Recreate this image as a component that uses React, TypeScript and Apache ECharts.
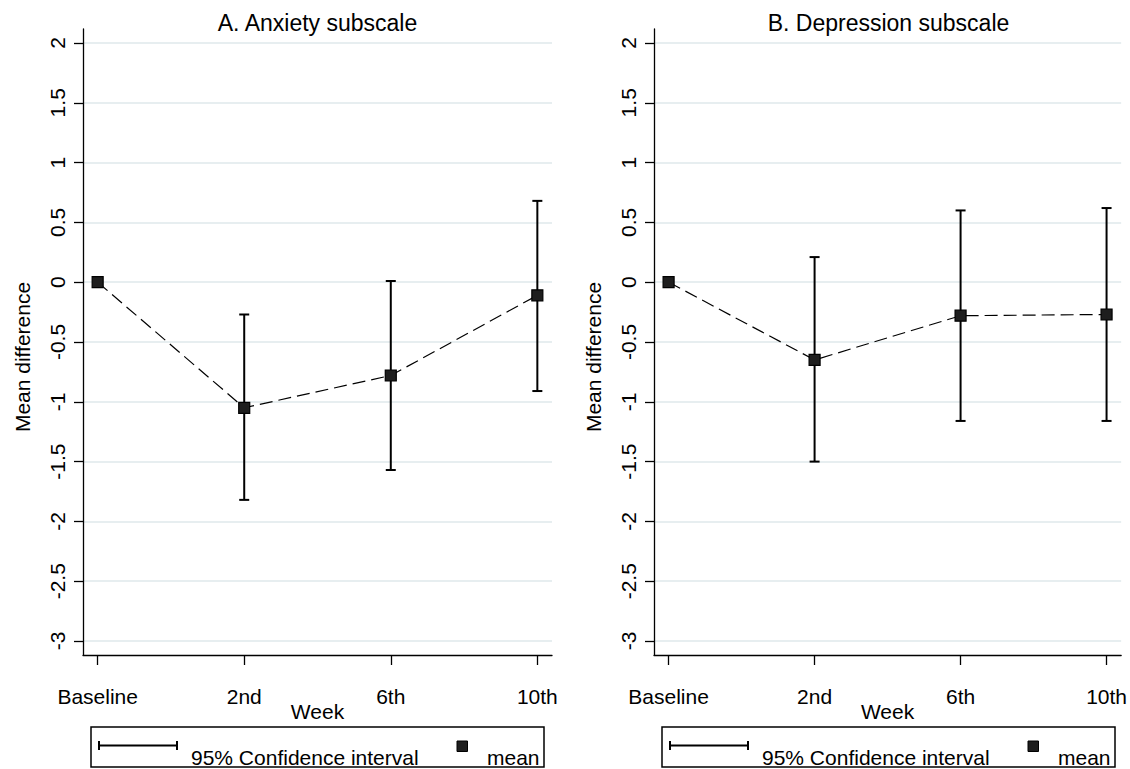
import React, { useEffect, useRef } from "react";
import * as echarts from "echarts";

const weeks = ["Baseline", "2nd", "6th", "10th"];
const yTicks = [-3, -2.5, -2, -1.5, -1, -0.5, 0, 0.5, 1, 1.5, 2];
const panelTitles = ["A. Anxiety subscale", "B. Depression subscale"];

const anxietyMean = [0, -1.05, -0.78, -0.11];
const anxietyLow = [null, -1.82, -1.57, -0.91];
const anxietyHigh = [null, -0.27, 0.01, 0.68];

const depressionMean = [0, -0.65, -0.28, -0.27];
const depressionLow = [null, -1.5, -1.16, -1.16];
const depressionHigh = [null, 0.21, 0.6, 0.62];

const FONT = "'Liberation Sans', Arial, Helvetica, sans-serif";

export default function App() {
  const ref = useRef<HTMLDivElement>(null);

  useEffect(() => {
    if (!ref.current) return;
    const chart = echarts.init(ref.current, null, { renderer: "svg" });

    const panels = [
      { mean: anxietyMean, low: anxietyLow, high: anxietyHigh },
      { mean: depressionMean, low: depressionLow, high: depressionHigh },
    ];
    const gridLefts = [83, 654];
    const gridWidth = 469;
    const gridTop = 29;
    const gridHeight = 626;

    const grids = gridLefts.map((l) => ({
      left: l,
      top: gridTop,
      width: gridWidth,
      height: gridHeight,
      containLabel: false,
    }));

    const xAxes = gridLefts.map((_, i) => ({
      type: "value",
      gridIndex: i,
      min: -0.1,
      max: 3.1,
      axisLine: { show: true, onZero: false, lineStyle: { color: "#000", width: 1.3 } },
      axisTick: { show: true, length: 10, customValues: [0, 1, 2, 3], lineStyle: { color: "#000", width: 1.3 } },
      axisLabel: {
        customValues: [0, 1, 2, 3],
        formatter: (v: number) => weeks[Math.round(v)] ?? "",
        color: "#000",
        fontSize: 21,
        fontFamily: FONT,
        margin: 31,
      },
      splitLine: { show: false },
      name: "Week",
      nameLocation: "middle",
      nameGap: 46,
      nameMoveOverlap: false,
      nameTextStyle: { color: "#000", fontSize: 21, fontFamily: FONT },
    }));

    const yAxes = gridLefts.map((_, i) => ({
      type: "value",
      gridIndex: i,
      min: -3.117,
      max: 2.117,
      axisLine: { show: true, onZero: false, lineStyle: { color: "#000", width: 1.3 } },
      axisTick: { show: true, length: 9, customValues: yTicks, lineStyle: { color: "#000", width: 1.3 } },
      axisLabel: {
        customValues: yTicks,
        rotate: 90,
        color: "#000",
        fontSize: 21,
        fontFamily: FONT,
        margin: 15,
      },
      splitLine: { show: true, lineStyle: { color: "#e7eef0", width: 2 } },
      name: "Mean difference",
      nameLocation: "middle",
      nameGap: 50,
      nameMoveOverlap: false,
      nameTextStyle: { color: "#000", fontSize: 21, fontFamily: FONT, padding: [0, 30, 0, 0] },
    }));

    const series: any[] = [];
    panels.forEach((p, i) => {
      const ciData = weeks
        .map((_, k) => [k, p.low[k], p.high[k]])
        .filter((d) => d[1] != null && d[2] != null);
      series.push({
        type: "custom",
        xAxisIndex: i,
        yAxisIndex: i,
        z: 2,
        silent: true,
        data: ciData,
        renderItem: (params: any, api: any) => {
          const x = api.value(0);
          const pLo = api.coord([x, api.value(1)]);
          const pHi = api.coord([x, api.value(2)]);
          const cap = 5;
          const st = { stroke: "#000", lineWidth: 2 };
          return {
            type: "group",
            children: [
              { type: "line", shape: { x1: pHi[0], y1: pHi[1], x2: pLo[0], y2: pLo[1] }, style: st },
              { type: "line", shape: { x1: pHi[0] - cap, y1: pHi[1], x2: pHi[0] + cap, y2: pHi[1] }, style: st },
              { type: "line", shape: { x1: pLo[0] - cap, y1: pLo[1], x2: pLo[0] + cap, y2: pLo[1] }, style: st },
            ],
          };
        },
      });
      series.push({
        type: "line",
        xAxisIndex: i,
        yAxisIndex: i,
        z: 3,
        data: p.mean.map((v, k) => [k, v]),
        symbol: "rect",
        symbolSize: 11,
        lineStyle: { color: "#000", width: 1.2, type: [13, 6] },
        itemStyle: { color: "#1e1e1e", borderColor: "#000", borderWidth: 1.2 },
      });
    });

    const graphics: any[] = [];
    gridLefts.forEach((l, i) => {
      const cx = l + gridWidth / 2;
      graphics.push({
        type: "text",
        x: cx,
        y: 11,
        style: { text: panelTitles[i], fill: "#000", font: `23px ${FONT}`, textAlign: "center", textVerticalAlign: "top" },
      });
      const dx = l - 83;
      graphics.push({
        type: "rect",
        shape: { x: 91 + dx, y: 727, width: 453, height: 40 },
        style: { fill: "#fff", stroke: "#000", lineWidth: 1.5 },
      });
      const ls = { stroke: "#000", lineWidth: 2 };
      graphics.push({ type: "line", shape: { x1: 99 + dx, y1: 745.5, x2: 177 + dx, y2: 745.5 }, style: ls });
      graphics.push({ type: "line", shape: { x1: 99 + dx, y1: 741, x2: 99 + dx, y2: 750 }, style: ls });
      graphics.push({ type: "line", shape: { x1: 177 + dx, y1: 741, x2: 177 + dx, y2: 750 }, style: ls });
      graphics.push({
        type: "text",
        x: 191 + dx,
        y: 757,
        style: { text: "95% Confidence interval", fill: "#000", font: `21px ${FONT}`, textAlign: "left", textVerticalAlign: "middle" },
      });
      graphics.push({
        type: "rect",
        shape: { x: 457 + dx, y: 741, width: 10.5, height: 10.5 },
        style: { fill: "#1e1e1e", stroke: "#000", lineWidth: 1 },
      });
      graphics.push({
        type: "text",
        x: 487 + dx,
        y: 757,
        style: { text: "mean", fill: "#000", font: `21px ${FONT}`, textAlign: "left", textVerticalAlign: "middle" },
      });
    });

    chart.setOption({
      animation: false,
      backgroundColor: "#fff",
      textStyle: { fontFamily: FONT },
      grid: grids,
      xAxis: xAxes,
      yAxis: yAxes,
      series,
      graphic: graphics,
    });

    return () => chart.dispose();
  }, []);

  return (
    <div
      ref={ref}
      style={{ position: "absolute", left: 0, top: 0, width: 1130, height: 769 }}
    />
  );
}
